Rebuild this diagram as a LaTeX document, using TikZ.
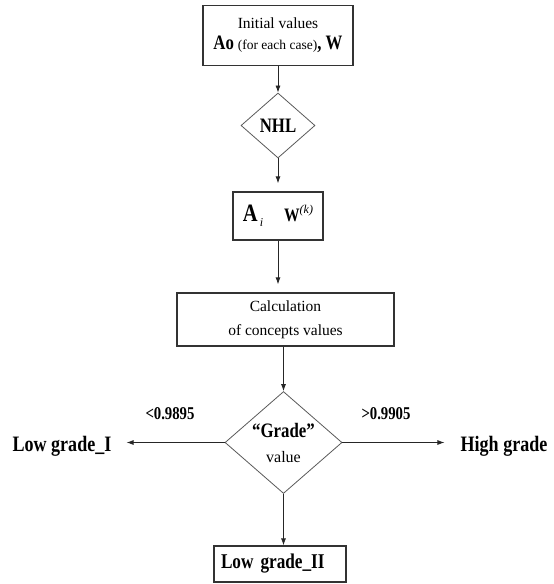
\documentclass[tikz,border=0pt]{standalone}
\usepackage{fontspec}
\setmainfont{Liberation Serif}[BoldFeatures={FakeStretch=0.82}]
\usetikzlibrary{arrows.meta, positioning, shapes.geometric}

\begin{document}
\begin{tikzpicture}[x=1pt, y=-1pt,
    box/.style={rectangle, draw=black!80, line width=1.3pt, inner sep=0pt, align=center},
    decision/.style={diamond, draw=black!65, line width=0.8pt, inner sep=0pt, align=center},
    flow/.style={-{Latex[length=7pt, width=5pt]}, draw=black!85, line width=0.8pt},
    result/.style={font=\fontsize{22}{24}\selectfont\bfseries, inner ysep=0pt},
    bound/.style={font=\fontsize{18}{20}\selectfont\bfseries}]
    \useasboundingbox (0,0) rectangle (554,584);

    % Initial values at the top
    \node[box, minimum width=150pt, minimum height=60pt, font=\fontsize{15.5}{21}\selectfont]
        (init) at (278,35.5)
        {Initial values\\
         {\fontsize{20.5}{21}\selectfont\bfseries Ao}~{\fontsize{13.5}{21}\selectfont (for each case)}{\fontsize{20.5}{21}\selectfont\bfseries , W}};

    % NHL decision
    \node[decision, minimum width=74pt, minimum height=65pt,
          font=\fontsize{20.5}{22}\selectfont\bfseries] (nhl) at (278,125.5) {NHL};

    % Concepts and weights
    \node[box, minimum width=90pt, minimum height=48pt] (aw) at (278,216)
        {{\fontsize{25}{26}\selectfont\bfseries A}\kern2pt\raisebox{-5pt}{\fontsize{12}{14}\selectfont\itshape i}\hspace{21pt}%
         {\fontsize{19}{24}\selectfont\bfseries W}\raisebox{8pt}{\fontsize{12}{14}\selectfont\itshape (k)}};

    % Calculation box
    \node[box, minimum width=217pt, minimum height=53pt, font=\fontsize{15.5}{24}\selectfont]
        (calc) at (285.5,319.5) {Calculation\\of concepts values};

    % Grade decision
    \node[decision, minimum width=117pt, minimum height=99pt, font=\fontsize{16}{25}\selectfont]
        (grade) at (283.5,442.5) {{\fontsize{20.5}{25}\selectfont\bfseries “Grade”}\\value};

    % Outcomes
    \node[result, inner xsep=15pt] (low1) at (62,446) {Low grade\_I};
    \node[result, inner xsep=16pt] (high) at (504,446) {High grade};
    \node[box, minimum height=36pt, text width=118pt, align=left, inner xsep=7pt,
          font=\fontsize{21}{22}\selectfont\bfseries] (low2) at (280,564) {Low grade\_II};

    % Thresholds
    \node[bound] (lowbound) at (170,414) {<0.9895};
    \node[bound] (highbound) at (386,414) {>0.9905};

    % Connectors
    \draw[flow] (init) -- (nhl);
    \draw[flow, shorten >=8pt] (nhl) -- (aw);
    \draw[flow, shorten >=8pt] (aw.south) -- (aw.south |- calc.north);
    \draw[flow] (grade.north |- calc.south) -- (grade.north);
    \draw[flow] (grade.south) -- (grade.south |- low2.north);
    \draw[flow] (grade.west) -- (grade.west -| low1.east);
    \draw[flow] (grade.east) -- (grade.east -| high.west);
\end{tikzpicture}
\end{document}
